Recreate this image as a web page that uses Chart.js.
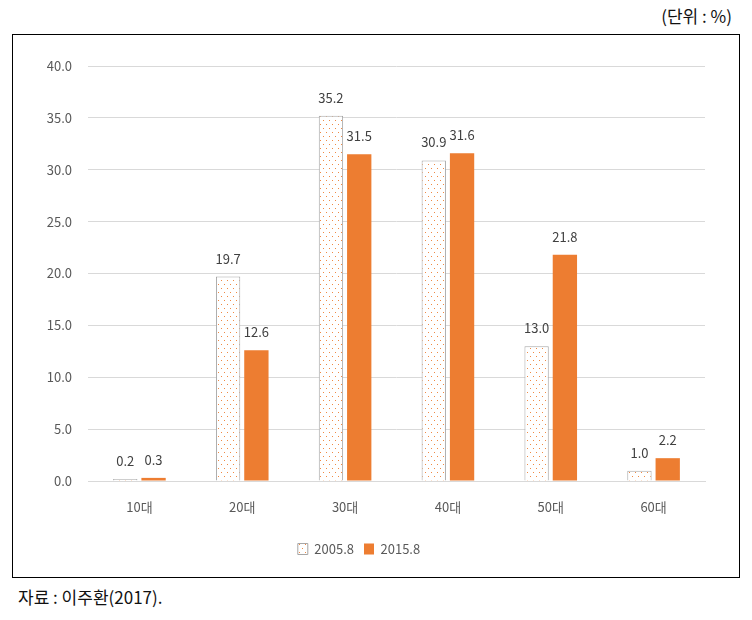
<!DOCTYPE html>
<html>
<head>
<meta charset="utf-8">
<script src="https://cdn.jsdelivr.net/npm/chart.js@4/dist/chart.umd.min.js"></script>
<style>
  body { margin: 0; background: #fff; width: 752px; height: 620px; position: relative; overflow: hidden; }
  #unit { position: absolute; right: 20px; top: 3px; font: 17px 'Noto Sans CJK KR', sans-serif; color: #111; }
  #frame { position: absolute; left: 12px; top: 34px; width: 726px; height: 542px; border: 1.5px solid #000; }
  #note { position: absolute; left: 18px; top: 584px; font: 17px 'Noto Sans CJK KR', sans-serif; color: #111; }
</style>
</head>
<body>
<div id="unit">(단위 : %)</div>
<div id="frame"><canvas id="myChart" width="726" height="542"></canvas></div>
<div id="note">자료 : 이주환(2017).</div>
<script>
var categories = ['10대', '20대', '30대', '40대', '50대', '60대'];
var series2005 = [0.2, 19.7, 35.2, 30.9, 13.0, 1.0];
var series2015 = [0.3, 12.6, 31.5, 31.6, 21.8, 2.2];
var yTicks = [0, 5, 10, 15, 20, 25, 30, 35, 40];

var fontFamily = "'Liberation Sans Narrow', 'Noto Sans CJK KR', sans-serif";

// dotted fill for the 2005.8 bars
function dotPattern(){
    var c = document.createElement('canvas');
    c.width = 6; c.height = 8;
    var g = c.getContext('2d');
    g.fillStyle = '#fff';
    g.fillRect(0, 0, 6, 8);
    g.fillStyle = 'rgba(237,125,49,0.9)';
    g.fillRect(1, 1, 1, 1);
    g.fillRect(4, 5, 1, 1);
    return g.createPattern(c, 'repeat');
}
var pattern = dotPattern();

// value labels above bars
const barLabels = {
    id: 'barLabels',
    afterDatasetsDraw(chart){
        const ctx = chart.ctx;
        ctx.save();
        ctx.font = '13px ' + fontFamily;
        ctx.fillStyle = '#404040';
        ctx.textAlign = 'center';
        ctx.textBaseline = 'middle';
        chart.data.datasets.forEach(function(ds, i){
            chart.getDatasetMeta(i).data.forEach(function(bar, j){
                ctx.fillText(ds.data[j].toFixed(1), bar.x, bar.y - 18);
            });
        });
        ctx.restore();
    }
};

Chart.defaults.font.family = fontFamily;
Chart.defaults.font.size = 13;
Chart.defaults.color = '#595959';

const data = {
    labels: categories,
    datasets: [{
        label: '2005.8',
        data: series2005,
        backgroundColor: pattern,
        borderColor: '#a6a6a6',
        borderWidth: 1
    }, {
        label: '2015.8',
        data: series2015,
        backgroundColor: '#ed7d31',
        borderColor: '#ed7d31',
        borderWidth: 0
    }]
};

const config = {
    type: 'bar',
    data: data,
    plugins: [barLabels],
    options: {
        responsive: false,
        animation: false,
        layout: { padding: { top: 31, left: 0, right: 34, bottom: 11.5 } },
        datasets: { bar: { categoryPercentage: 0.55, barPercentage: 0.86 } },
        plugins: {
            tooltip: { enabled: false },
            legend: {
                position: 'bottom',
                labels: { boxWidth: 10, boxHeight: 11, padding: 10, color: '#595959', font: { size: 13 } }
            }
        },
        scales: {
            x: {
                grid: { display: false },
                border: { color: '#d9d9d9', width: 1 },
                ticks: { padding: 10, color: '#595959' },
                afterFit: function(axis){ axis.height = 51.5; }
            },
            y: {
                min: 0, max: 40,
                afterBuildTicks: function(axis){ axis.ticks = yTicks.map(v => ({ value: v })); },
                grid: { color: '#d9d9d9', drawTicks: false },
                border: { display: false },
                ticks: { padding: 16, color: '#595959', callback: v => v.toFixed(1) },
                afterFit: function(axis){ axis.width = 75; }
            }
        }
    }
};

const myChart = new Chart(document.getElementById('myChart'), config);
</script>
</body>
</html>
